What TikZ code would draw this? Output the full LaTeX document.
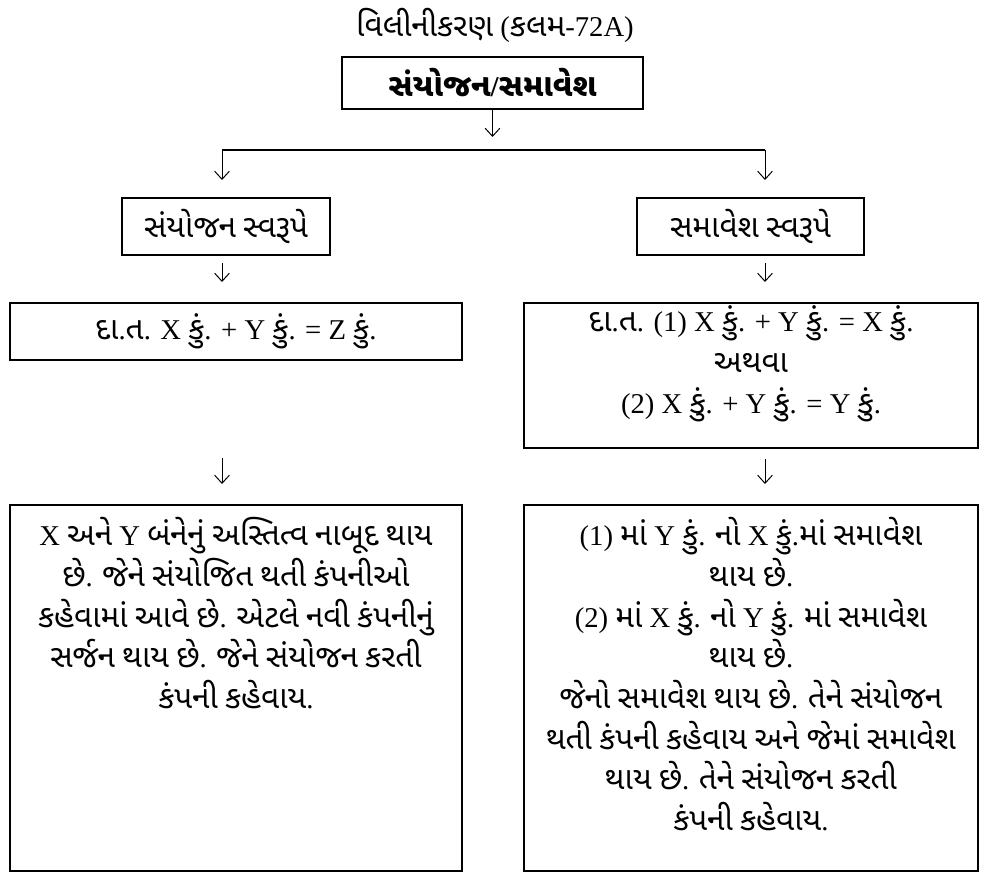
\documentclass[tikz,border=0pt]{standalone}
\usepackage{fontspec}
\setmainfont{Liberation Serif}
\newfontfamily\gujfont[Script=Gujarati, Scale=1.1]{Noto Sans Gujarati UI}
\usetikzlibrary{arrows.meta}
% Gujarati letters switch to the Gujarati font, everything else stays Liberation Serif
\XeTeXinterchartokenstate=1
\newXeTeXintercharclass\gujcls
\newcount\gujcode
\gujcode="0A80
\loop
  \XeTeXcharclass\gujcode=\gujcls
  \ifnum\gujcode<"0AFF \advance\gujcode by 1 \repeat
\XeTeXinterchartoks 0 \gujcls = {\gujfont}
\XeTeXinterchartoks 4095 \gujcls = {\gujfont}
\XeTeXinterchartoks \gujcls 0 = {\rmfamily}
\XeTeXinterchartoks \gujcls 4095 = {\rmfamily}
\XeTeXinterchartoks 4095 0 = {\rmfamily}
\newcommand\pxu{0.75pt}

\begin{document}
\begin{tikzpicture}[x=0.75pt, y=-0.75pt,
    every node/.style={font=\fontsize{21.5}{30.5}\selectfont},
    box/.style={draw, line width=1.5pt, inner sep=0pt, align=center},
    arr/.style={-{Straight Barb[length=6pt, width=11pt]}, line width=0.75pt}]
  \useasboundingbox (0,0) rectangle (992,873);

  \node (title) at (495,25) {વિલીનીકરણ (કલમ-72A)};
  \node[box, minimum width=301*\pxu, minimum height=52*\pxu] (top) at (492.5,83) {\bfseries સંયોજન/સમાવેશ};

  \node[box, minimum width=208*\pxu, minimum height=57*\pxu] (formL) at (226,226.5) {સંયોજન સ્વરૂપે};
  \node[box, minimum width=227*\pxu, minimum height=57*\pxu] (formR) at (750.5,226.5) {સમાવેશ સ્વરૂપે};

  \node[box, minimum width=452*\pxu, minimum height=57*\pxu] (exL) at (236,331.5) {દા.ત. X કું. + Y કું. = Z કું.};
  \node[box, minimum width=454*\pxu, minimum height=145*\pxu] (exR) at (751,375.5) {};
  \node[align=center] (exRtxt) at (751,364)
    {દા.ત. (1) X કું. + Y કું. = X કું.\\ અથવા\\ (2) X કું. + Y કું. = Y કું.};

  \node[box, minimum width=452*\pxu, minimum height=366*\pxu] (resL) at (236,688) {};
  \node[box, minimum width=454*\pxu, minimum height=366*\pxu] (resR) at (751,688) {};
  \node[anchor=north, align=center] (resLtxt) at (236,513)
    {X અને Y બંનેનું અસ્તિત્વ નાબૂદ થાય\\
     છે. જેને સંયોજિત થતી કંપનીઓ\\
     કહેવામાં આવે છે. એટલે નવી કંપનીનું\\
     સર્જન થાય છે. જેને સંયોજન કરતી\\
     કંપની કહેવાય.};
  \node[anchor=north, align=center] (resRtxt) at (751,513)
    {(1) માં Y કું. નો X કું.માં સમાવેશ\\
     થાય છે.\\
     (2) માં X કું. નો Y કું. માં સમાવેશ\\
     થાય છે.\\
     જેનો સમાવેશ થાય છે. તેને સંયોજન\\
     થતી કંપની કહેવાય અને જેમાં સમાવેશ\\
     થાય છે. તેને સંયોજન કરતી\\
     કંપની કહેવાય.};

  % split under the top box
  \coordinate (t1) at (492.5,137);
  \coordinate (sl) at (222,150);
  \coordinate (sr) at (765,150);
  \coordinate (al) at (222,180);
  \coordinate (ar) at (765,180);
  \draw[arr] (top) -- (t1);
  \draw[line width=1.5pt] (sl) -- (sr);
  \draw[arr] (sl) -- (al);
  \draw[arr] (sr) -- (ar);

  % down the two columns
  \draw[arr, shorten <=5pt, shorten >=15pt] (formL.south -| al) -- (exL.north -| al);
  \draw[arr, shorten <=5pt, shorten >=15pt] (formR.south -| ar) -- (exR.north -| ar);
  \draw[arr, shorten <=73pt, shorten >=15pt] (exL.south -| al) -- (resL.north -| al);
  \draw[arr, shorten <=7.5pt, shorten >=15pt] (exR.south -| ar) -- (resR.north -| ar);
\end{tikzpicture}
\end{document}
